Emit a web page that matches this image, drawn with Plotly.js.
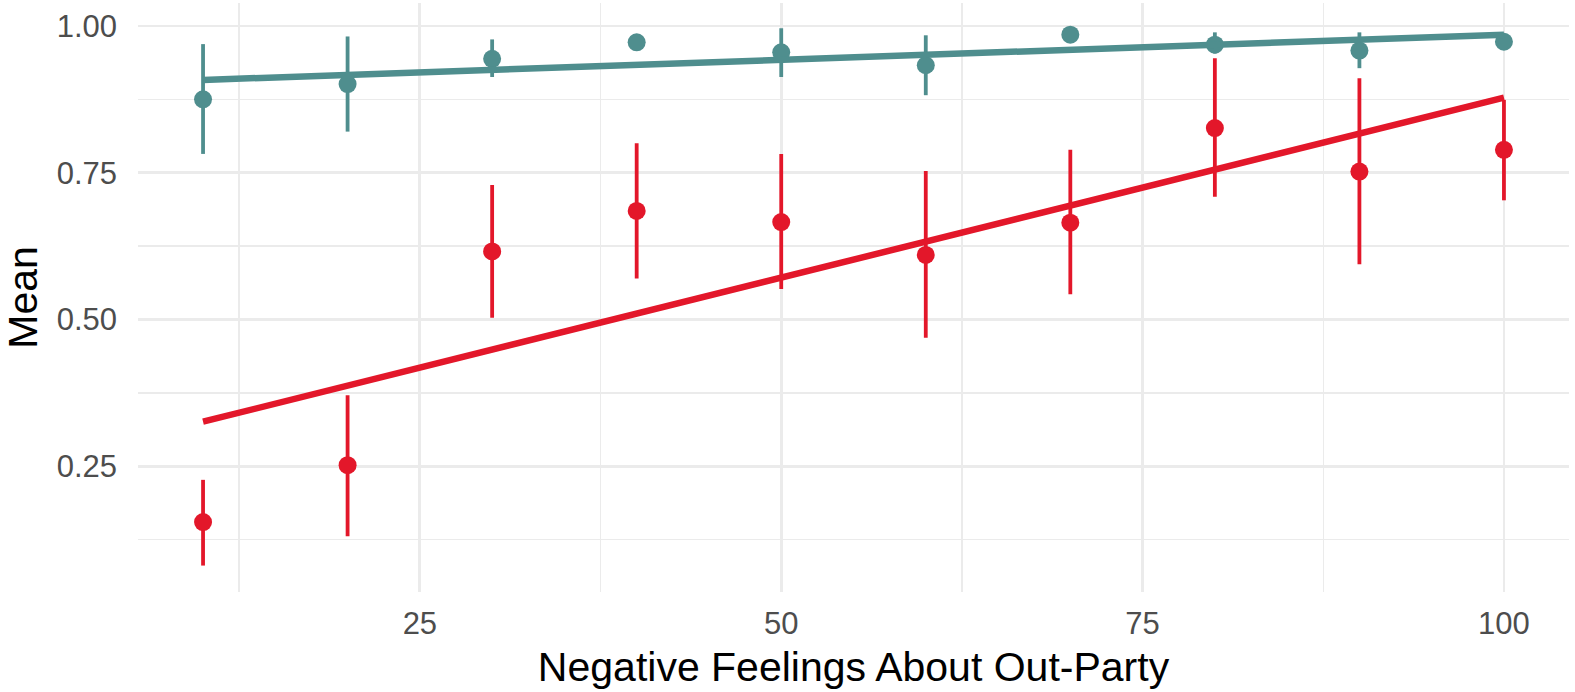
<!DOCTYPE html>
<html>
<head>
<meta charset="utf-8">
<script src="https://cdn.plot.ly/plotly-3.0.1.min.js"></script>
<style>html,body{margin:0;padding:0;background:#fff;}#chart{width:1575px;height:692px;}</style>
</head>
<body>
<div id="chart"></div>
<script>
// Data
const feelings = [10, 20, 30, 40, 50, 60, 70, 80, 90, 100];

const tealMean  = [0.875, 0.901, 0.944, 0.972, 0.955, 0.933, 0.985, 0.968, 0.958, 0.973];
const tealUpper = [0.969, 0.982, 0.977, 0.972, 0.996, 0.984, 0.985, 0.989, 0.989, 0.973];
const tealLower = [0.782, 0.820, 0.913, 0.972, 0.913, 0.882, 0.985, 0.953, 0.928, 0.973];

const redMean  = [0.155, 0.252, 0.616, 0.685, 0.666, 0.610, 0.665, 0.826, 0.752, 0.789];
const redUpper = [0.227, 0.371, 0.729, 0.800, 0.782, 0.753, 0.789, 0.945, 0.911, 0.874];
const redLower = [0.081, 0.131, 0.503, 0.570, 0.552, 0.469, 0.543, 0.709, 0.594, 0.703];

const fitX    = [10, 100];
const tealFit = [0.908, 0.985];
const redFit  = [0.326, 0.878];

const xTicks = [25, 50, 75, 100];
const yTicks = [0.25, 0.50, 0.75, 1.00];
const yTickText = ["0.25", "0.50", "0.75", "1.00"];

const TEAL = "#4f8e8e";
const RED = "#e3172a";

function pointsTrace(mean, upper, lower, color) {
  return {
    x: feelings, y: mean, type: "scatter", mode: "markers",
    marker: {color: color, size: 18},
    error_y: {
      type: "data", symmetric: false,
      array: upper.map((u, i) => u - mean[i]),
      arrayminus: lower.map((l, i) => mean[i] - l),
      color: color, thickness: 3.8, width: 0
    },
    hoverinfo: "skip", showlegend: false
  };
}
function fitTrace(y, color) {
  return {x: fitX, y: y, type: "scatter", mode: "lines",
    line: {color: color, width: 6.5}, hoverinfo: "skip", showlegend: false};
}

const data = [
  pointsTrace(redMean, redUpper, redLower, RED),
  pointsTrace(tealMean, tealUpper, tealLower, TEAL),
  fitTrace(redFit, RED),
  fitTrace(tealFit, TEAL)
];

const FONT = "Liberation Sans, Arial, Helvetica, sans-serif";
const layout = {
  width: 1575, height: 692,
  margin: {l: 138, r: 6, t: 3, b: 100},
  paper_bgcolor: "#fff", plot_bgcolor: "#fff",
  font: {family: FONT},
  xaxis: {
    range: [5.5, 104.5], tickvals: xTicks, ticktext: xTicks.map(String),
    showline: false, zeroline: false, ticks: "", ticklabelstandoff: 10,
    gridcolor: "#ebebeb", gridwidth: 2.8,
    minor: {tickvals: [12.5, 37.5, 62.5, 87.5], showgrid: true, gridcolor: "#ebebeb", gridwidth: 1.5, ticks: ""},
    tickfont: {size: 31, color: "#4d4d4d", family: FONT},
    title: {text: "Negative Feelings About Out-Party", font: {size: 41, color: "#000", family: FONT}, standoff: 12}
  },
  yaxis: {
    range: [0.036, 1.039], tickvals: yTicks, ticktext: yTickText,
    showline: false, zeroline: false, ticks: "", ticklabelstandoff: 20,
    gridcolor: "#ebebeb", gridwidth: 2.8,
    minor: {tickvals: [0.125, 0.375, 0.625, 0.875], showgrid: true, gridcolor: "#ebebeb", gridwidth: 1.5, ticks: ""},
    tickfont: {size: 31, color: "#4d4d4d", family: FONT},
    title: {text: "Mean", font: {size: 41, color: "#000", family: FONT}, standoff: 14}
  }
};

Plotly.newPlot("chart", data, layout, {displayModeBar: false, staticPlot: true});
</script>
</body>
</html>
